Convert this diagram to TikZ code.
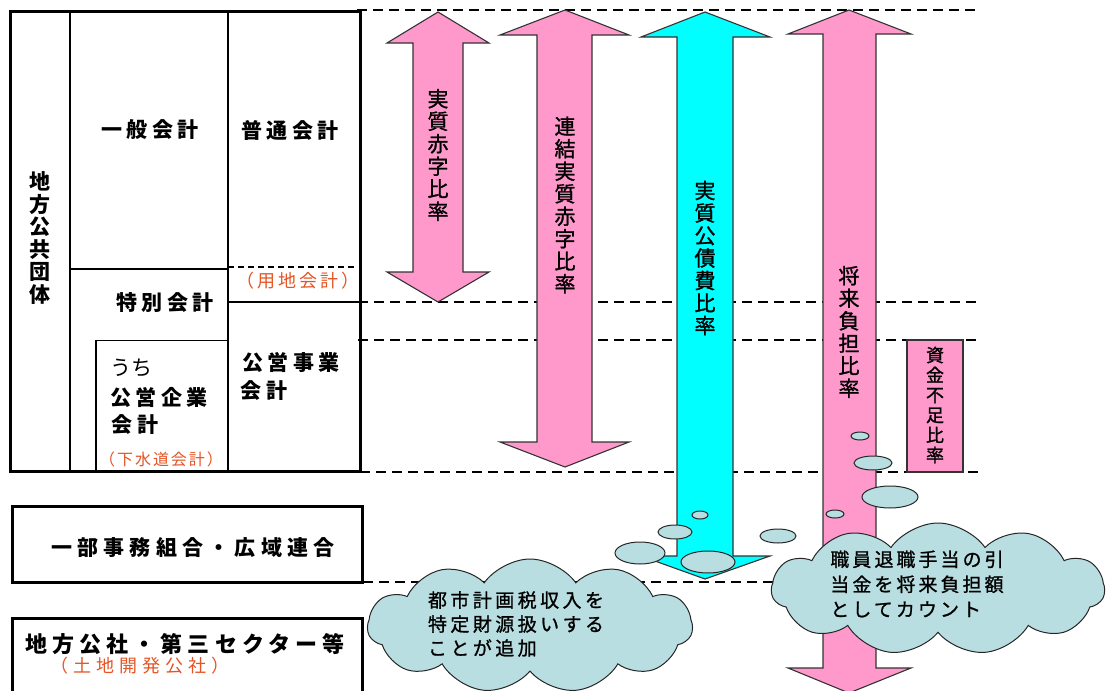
\documentclass[tikz,border=0pt]{standalone}
\usepackage{fontspec}
\setmainfont{Noto Sans CJK JP}
\usetikzlibrary{shapes.symbols}

\definecolor{arrowpink}{RGB}{255,153,204}
\definecolor{arrowcyan}{RGB}{0,255,255}
\definecolor{cloudblue}{RGB}{184,222,225}
\definecolor{noteorange}{RGB}{228,84,36}

\begin{document}
\begin{tikzpicture}[x=1pt,y=-1pt,
    frame/.style={line width=3pt},
    divider/.style={line width=1.6pt},
    gridline/.style={line width=2pt, dash pattern=on 10pt off 6pt},
    ratio/.style={draw=black!80, line width=1.1pt, line join=miter},
    bubble/.style={draw=black!85, fill=cloudblue, line width=1pt},
    vlabel/.style={font=\fontsize{21}{22.5}\selectfont\addfontfeature{FakeBold=1.2}, align=center, inner sep=0pt},
    blabel/.style={font=\fontsize{21}{24}\selectfont\bfseries\addfontfeature{LetterSpace=20}, inner sep=0pt},
    note/.style={text=noteorange, inner sep=0pt},
    cloudtext/.style={font=\fontsize{19}{24}\selectfont\addfontfeature{LetterSpace=18,FakeBold=1}, align=left, inner sep=0pt}]
    \useasboundingbox (0,0) rectangle (1109,691);
    \clip (0,0) rectangle (1109,691);

    % level lines
    \draw[gridline] (357,10) -- (975,10);
    \draw[gridline] (358,302) -- (982,302);
    \draw[gridline] (358,340) -- (982,340);
    \draw[gridline] (360,472) -- (982,472);
    \draw[gridline] (363,582) -- (780,582);

    % local government frame
    \draw[frame] (10.5,11) rectangle (360,471.5);
    \draw[divider] (70,11) -- (70,471.5);
    \draw[divider] (228,11) -- (228,471.5);
    \draw[divider] (70,269) -- (228,269);
    \draw[divider, dash pattern=on 6pt off 4pt] (228,267) -- (357,267);
    \draw[divider] (228,302) -- (358,302);
    \draw[line width=1.2pt] (96,471.5) |- (228,340.5);

    \node[vlabel, font=\fontsize{21}{22.5}\selectfont\bfseries] (dantai) at (40,238) {地\\方\\公\\共\\団\\体};
    \node[blabel] (ippan) at (150,130) {一般会計};
    \node[blabel] (futsu) at (290,130) {普通会計};
    \node[note, font=\fontsize{18}{20}\selectfont\addfontfeature{LetterSpace=16}] (yochi) at (298,281) {（用地会計）};
    \node[blabel] (tokubetsu) at (165,303) {特別会計};
    \node[inner sep=0pt, font=\fontsize{21}{24}\selectfont] (uchi) at (131,368) {うち};
    \node[blabel] (kigyo) at (159,398) {公営企業};
    \node[blabel] (kigyo2) at (135,425) {会計};
    \node[note, font=\fontsize{16}{18}\selectfont\addfontfeature{LetterSpace=12}] (gesui) at (161,459) {（下水道会計）};
    \node[blabel] (jigyo) at (291,363) {公営事業};
    \node[blabel] (jigyo2) at (264,391) {会計};

    % other bodies
    \draw[frame] (12,506) rectangle (362,582);
    \node[blabel, font=\fontsize{21}{24}\selectfont\bfseries\addfontfeature{LetterSpace=25}] (kumiai) at (193,548) {一部事務組合・広域連合};
    \draw[frame] (12,618) rectangle (362,720);
    \node[blabel, font=\fontsize{22}{24}\selectfont\bfseries\addfontfeature{LetterSpace=23}] (kosha) at (185,644) {地方公社・第三セクター等};
    \node[note, font=\fontsize{18}{20}\selectfont\addfontfeature{LetterSpace=28}] (tochi) at (140,666) {（土地開発公社）};

    % ratio arrows
    \filldraw[ratio, fill=arrowpink] (438,12) -- (489,43) -- (463,43) -- (463,272) -- (489,272)
        -- (438,302) -- (387,272) -- (413,272) -- (413,43) -- (387,43) -- cycle;
    \node[vlabel] (akaji) at (438,155) {実\\質\\赤\\字\\比\\率};

    \filldraw[ratio, fill=arrowpink] (565,10) -- (629,35) -- (592,35) -- (592,442) -- (629,442)
        -- (565,467) -- (500,442) -- (537,442) -- (537,35) -- (500,35) -- cycle;
    \node[vlabel] (renketsu) at (565,205) {連\\結\\実\\質\\赤\\字\\比\\率};

    \filldraw[ratio, fill=arrowcyan] (705,12) -- (770,37) -- (733,37) -- (733,556) -- (770,556)
        -- (705,579) -- (641,556) -- (677,556) -- (677,37) -- (641,37) -- cycle;
    \node[vlabel] (kosai) at (705,258) {実\\質\\公\\債\\費\\比\\率};

    \filldraw[ratio, fill=arrowpink] (849,10) -- (911,34) -- (876,34) -- (876,668) -- (911,668)
        -- (849,693) -- (788,668) -- (823,668) -- (823,34) -- (788,34) -- cycle;
    \node[vlabel] (futan) at (849,332) {将\\来\\負\\担\\比\\率};

    \filldraw[ratio, fill=arrowpink] (907,340) rectangle (963,472);
    \node[vlabel, font=\fontsize{18}{20}\selectfont\addfontfeature{FakeBold=1.2}] (shikin) at (935,405) {資\\金\\不\\足\\比\\率};

    % thought bubbles
    \draw[bubble] (700,515) ellipse [x radius=8pt, y radius=4pt];
    \draw[bubble] (675,532) ellipse [x radius=17pt, y radius=7pt];
    \draw[bubble] (640,553) ellipse [x radius=25pt, y radius=11pt];
    \draw[bubble] (708,562) ellipse [x radius=27pt, y radius=11pt];
    \node[cloud, bubble, cloud puffs=11, cloud puff arc=110, aspect=2.3, minimum width=325pt,
        minimum height=134pt, inner sep=0pt] (taxcloud) at (530,626) {};
    \node[cloudtext] (taxtext) at (516,624) {都市計画税収入を\\特定財源扱いする\\ことが追加};

    \draw[bubble] (860,436) ellipse [x radius=9pt, y radius=4pt];
    \draw[bubble] (873,463) ellipse [x radius=19pt, y radius=7pt];
    \draw[bubble] (890,497) ellipse [x radius=28pt, y radius=11pt];
    \draw[bubble] (835,514) ellipse [x radius=9pt, y radius=4pt];
    \draw[bubble] (778,536) ellipse [x radius=18pt, y radius=7pt];
    \node[cloud, bubble, cloud puffs=11, cloud puff arc=110, aspect=2.5, minimum width=333pt,
        minimum height=132pt, inner sep=0pt] (retirecloud) at (938,589) {};
    \node[cloudtext, font=\fontsize{19}{25}\selectfont\addfontfeature{LetterSpace=16,FakeBold=1}] (retiretext) at (917,584) {職員退職手当の引\\当金を将来負担額\\としてカウント};
\end{tikzpicture}
\end{document}
